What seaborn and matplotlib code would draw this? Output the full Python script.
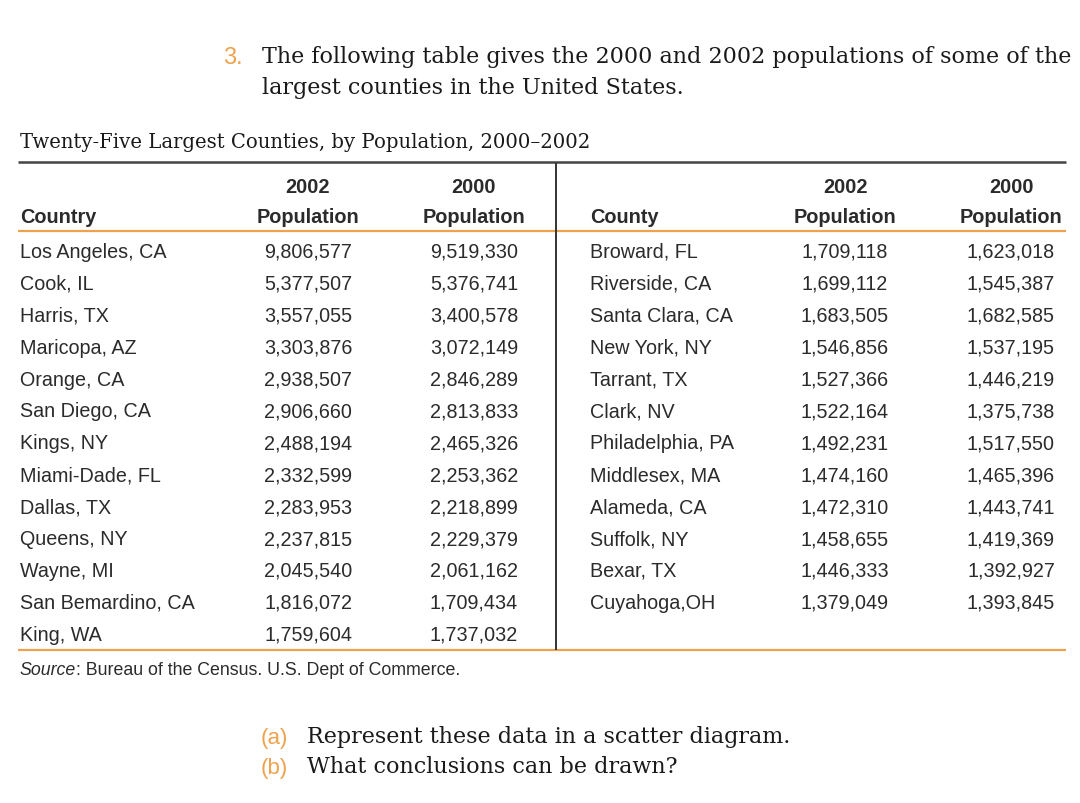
import matplotlib
matplotlib.use("Agg")
import matplotlib.pyplot as plt
import seaborn as sns

# данные таблицы
left_counties = ["Los Angeles, CA", "Cook, IL", "Harris, TX", "Maricopa, AZ", "Orange, CA",
                 "San Diego, CA", "Kings, NY", "Miami-Dade, FL", "Dallas, TX", "Queens, NY",
                 "Wayne, MI", "San Bemardino, CA", "King, WA"]
left_pop2002 = [9806577, 5377507, 3557055, 3303876, 2938507, 2906660, 2488194, 2332599,
                2283953, 2237815, 2045540, 1816072, 1759604]
left_pop2000 = [9519330, 5376741, 3400578, 3072149, 2846289, 2813833, 2465326, 2253362,
                2218899, 2229379, 2061162, 1709434, 1737032]

right_counties = ["Broward, FL", "Riverside, CA", "Santa Clara, CA", "New York, NY", "Tarrant, TX",
                  "Clark, NV", "Philadelphia, PA", "Middlesex, MA", "Alameda, CA", "Suffolk, NY",
                  "Bexar, TX", "Cuyahoga,OH"]
right_pop2002 = [1709118, 1699112, 1683505, 1546856, 1527366, 1522164, 1492231, 1474160,
                 1472310, 1458655, 1446333, 1379049]
right_pop2000 = [1623018, 1545387, 1682585, 1537195, 1446219, 1375738, 1517550, 1465396,
                 1443741, 1419369, 1392927, 1393845]

question = ["The following table gives the 2000 and 2002 populations of some of the",
            "largest counties in the United States."]
table_title = "Twenty-Five Largest Counties, by Population, 2000\u20132002"
parts = [("(a)", "Represent these data in a scatter diagram."),
         ("(b)", "What conclusions can be drawn?")]

sns.set_theme(style="white")
plt.rcParams['font.family'] = ['DejaVu Serif']

ORANGE = "#EFA24E"
TXT = "#2b2b2b"
DARK = "#1a1a1a"
SANS = "Liberation Sans"
SERIF = "DejaVu Serif"

fig = plt.figure(figsize=(10.8, 8.04), dpi=100)
ax = fig.add_axes([0, 0, 1, 1])
ax.set_xlim(0, 1080)
ax.set_ylim(804, 0)
ax.axis("off")

# вопрос
ax.text(223, 64, "3.", color=ORANGE, fontsize=17, family=SANS, va="baseline")
ax.text(262, 57, question[0], color=DARK, fontsize=16, family=SERIF, va="center")
ax.text(262, 88, question[1], color=DARK, fontsize=16, family=SERIF, va="center")

ax.text(20, 143, table_title, color=DARK, fontsize=14.1, family=SERIF, va="center")

# линии таблицы
ax.hlines(163, 18, 1066, color="#444444", lw=1.8)
ax.hlines(232, 18, 1066, color=ORANGE, lw=1.6)
ax.hlines(651, 18, 1066, color=ORANGE, lw=1.6)
ax.vlines(556, 164, 651, color="#333333", lw=1.4)

# шапка
off = 7
hdr = dict(color=TXT, fontsize=14.3, family=SANS, weight="bold", va="baseline")
ax.text(20, 216 + off, "Country", ha="left", **hdr)
ax.text(590, 216 + off, "County", ha="left", **hdr)
for xc in [308, 474, 845, 1011]:
    ax.text(xc, 186 + off, "2002" if xc in (308, 845) else "2000", ha="center", **hdr)
    ax.text(xc, 216 + off, "Population", ha="center", **hdr)

# строки
body = dict(color=TXT, fontsize=14.2, family=SANS, va="baseline")
y0, dy = 251 + off, 31.9
for i, (name, a, b) in enumerate(zip(left_counties, left_pop2002, left_pop2000)):
    y = y0 + i * dy
    ax.text(20, y, name, ha="left", **body)
    ax.text(308, y, f"{a:,}", ha="center", **body)
    ax.text(474, y, f"{b:,}", ha="center", **body)
for i, (name, a, b) in enumerate(zip(right_counties, right_pop2002, right_pop2000)):
    y = y0 + i * dy
    ax.text(590, y, name, ha="left", **body)
    ax.text(845, y, f"{a:,}", ha="center", **body)
    ax.text(1011, y, f"{b:,}", ha="center", **body)

# источник
src = dict(color=TXT, fontsize=12.8, family=SANS, va="baseline")
ax.text(20, 675, "Source", style="italic", **src)
ax.text(76, 675, ": Bureau of the Census. U.S. Dept of Commerce.", **src)

for k, (lbl, txt) in enumerate(parts):
    y = 737 + k * 30
    ax.text(261, y + 7, lbl, color=ORANGE, fontsize=16, family=SANS, va="baseline")
    ax.text(307, y, txt, color=DARK, fontsize=16, family=SERIF, va="center")

fig.savefig("out.png", dpi=100, facecolor="white")
